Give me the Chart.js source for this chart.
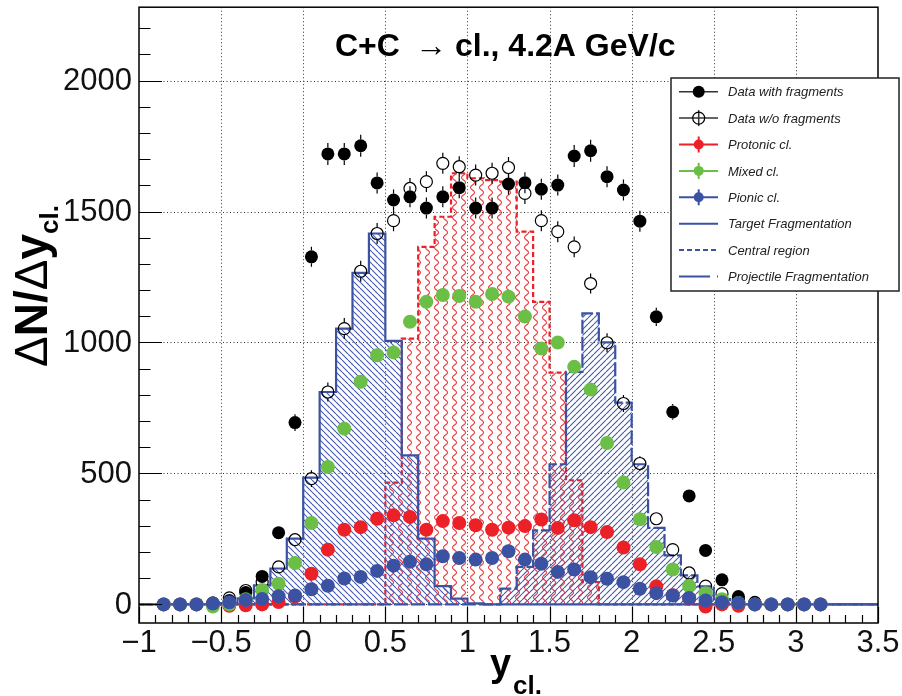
<!DOCTYPE html>
<html>
<head>
<meta charset="utf-8">
<script src="https://cdn.jsdelivr.net/npm/chart.js@4"></script>
<style>
  html, body { margin: 0; padding: 0; background: #fff; }
  canvas { display: block; }
</style>
</head>
<body>
<canvas id="chart" width="902" height="696"></canvas>
<script>
// Bin centres of the measured points (bin width 0.1)
const yCentres = [-0.85, -0.75, -0.65, -0.55, -0.45, -0.35, -0.25, -0.15, -0.05, 0.05,
  0.15, 0.25, 0.35, 0.45, 0.55, 0.65, 0.75, 0.85, 0.95, 1.05,
  1.15, 1.25, 1.35, 1.45, 1.55, 1.65, 1.75, 1.85, 1.95, 2.05,
  2.15, 2.25, 2.35, 2.45, 2.55, 2.65, 2.75, 2.85, 2.95, 3.05, 3.15];

const withFragments = [0, 0, 0, 5, 15, 45, 107, 274, 694, 1327,
  1720, 1720, 1751, 1609, 1544, 1556, 1513, 1556, 1591, 1513,
  1513, 1605, 1610, 1585, 1601, 1712, 1732, 1633, 1582, 1463,
  1098, 735, 414, 206, 94, 30, 8, 0, 0, 0, 0];
const errWith = [0, 0, 0, 5, 8, 12, 18, 22, 32, 38,
  42, 42, 42, 40, 40, 40, 40, 40, 40, 40,
  40, 40, 40, 40, 40, 42, 42, 40, 40, 40,
  35, 30, 25, 18, 12, 8, 5, 0, 0, 0, 0];

const withoutFragments = [0, 0, 0, 5, 25, 53, 85, 143, 247, 480,
  811, 1053, 1272, 1416, 1465, 1588, 1614, 1684, 1671, 1639,
  1646, 1668, 1569, 1465, 1423, 1365, 1225, 999, 767, 538,
  327, 209, 120, 70, 41, 20, 5, 0, 0, 0, 0];
const errWithout = [0, 0, 0, 5, 8, 12, 15, 20, 25, 32,
  36, 40, 40, 40, 40, 40, 40, 40, 40, 40,
  40, 40, 40, 40, 40, 40, 38, 36, 32, 28,
  22, 18, 14, 10, 8, 5, 3, 0, 0, 0, 0];

const protonic = [0, 0, 0, 0, -5, -3, 0, 9, 30, 117,
  209, 285, 295, 327, 340, 334, 285, 318, 311, 302,
  285, 293, 299, 324, 292, 321, 295, 276, 217, 153,
  69, 35, 22, -8, 0, -5, 0, 0, 0, 0, 0];
const mixed = [0, 0, 0, -8, 0, 20, 55, 79, 158, 311,
  525, 671, 850, 951, 962, 1079, 1155, 1181, 1177, 1155,
  1185, 1175, 1099, 977, 1000, 907, 820, 616, 465, 325,
  219, 133, 70, 43, 20, 5, 0, 0, 0, 0, 0];
const pionic = [0, 0, 0, 3, 8, 17, 21, 31, 34, 58,
  71, 99, 105, 128, 148, 163, 153, 184, 177, 171,
  177, 203, 171, 155, 124, 133, 104, 98, 85, 60,
  43, 34, 24, 15, 8, 5, 0, 0, 0, 0, 0];

// Histogram bin edges and contents
const binEdges = [-1, -0.9, -0.8, -0.7, -0.6, -0.5, -0.4, -0.3, -0.2, -0.1,
  0, 0.1, 0.2, 0.3, 0.4, 0.5, 0.6, 0.7, 0.8, 0.9,
  1, 1.1, 1.2, 1.3, 1.4, 1.5, 1.6, 1.7, 1.8, 1.9,
  2, 2.1, 2.2, 2.3, 2.4, 2.5, 2.6, 2.7, 2.8, 2.9,
  3, 3.1, 3.2, 3.3, 3.4, 3.5];
const targetFrag = [0, 0, 0, 0, 0, 5, 23, 73, 137, 251,
  484, 811, 1053, 1266, 1416, 1006, 569, 251, 70, 22,
  4, 0, 0, 0, 0, 0, 0, 0, 0, 0,
  0, 0, 0, 0, 0, 0, 0, 0, 0, 0, 0, 0, 0, 0, 0];
const centralReg = [0, 0, 0, 0, 0, 0, 0, 0, 0, 0,
  0, 0, 0, 0, 0, 465, 1015, 1365, 1480, 1646,
  1627, 1620, 1614, 1423, 1155, 885, 474, 85, 0, 0,
  0, 0, 0, 0, 0, 0, 0, 0, 0, 0, 0, 0, 0, 0, 0];
const projFrag = [0, 0, 0, 0, 0, 0, 0, 0, 0, 0,
  0, 0, 0, 0, 0, 0, 0, 0, 0, 0,
  0, 0, 60, 143, 283, 535, 888, 1111, 1000, 770,
  535, 292, 187, 111, 69, 20, 5, 0, 0, 0, 0, 0, 0, 0, 0];

// Axis ticks
const xTicks = [-1, -0.5, 0, 0.5, 1, 1.5, 2, 2.5, 3, 3.5];
const yTicks = [0, 500, 1000, 1500, 2000];

const red = "#ec2027";
const green = "#6bbf47";
const blue = "#3b52a3";
const font = "'Liberation Sans', Arial, sans-serif";

function points(values) {
  return values.map((v, i) => ({ x: yCentres[i], y: v }));
}

function steps(values) {
  const pts = values.map((v, j) => ({ x: binEdges[j], y: v }));
  pts.push({ x: binEdges[values.length], y: values[values.length - 1] });
  return pts;
}

function hatch(slash) {
  const s = 6;
  const c = document.createElement("canvas");
  c.width = c.height = s;
  const g = c.getContext("2d");
  g.strokeStyle = "#4659ad";
  g.lineWidth = 1.1;
  g.beginPath();
  for (let k = -1; k <= 1; k++) {
    if (slash) {
      g.moveTo(k * s, s);
      g.lineTo(k * s + s, 0);
    } else {
      g.moveTo(k * s, 0);
      g.lineTo(k * s + s, s);
    }
  }
  g.stroke();
  return g.createPattern(c, "repeat");
}

function wavy() {
  const w = 9, h = 10;
  const c = document.createElement("canvas");
  c.width = w;
  c.height = h;
  const g = c.getContext("2d");
  g.strokeStyle = "rgba(236,48,54,0.95)";
  g.lineWidth = 1.1;
  g.beginPath();
  for (let y = -1; y <= h + 1; y += 0.5) {
    const x = 4.5 + 2 * Math.sin((2 * Math.PI * y) / h);
    if (y === -1) g.moveTo(x, y);
    else g.lineTo(x, y);
  }
  g.stroke();
  return g.createPattern(c, "repeat");
}

// Error bars, drawn under the markers of their own dataset
const errorBars = {
  id: "errorBars",
  beforeDatasetDraw(chart, args) {
    const ds = chart.data.datasets[args.index];
    if (!ds.errors) return;
    const { ctx, scales: { y } } = chart;
    ctx.save();
    ctx.strokeStyle = "#000";
    ctx.lineWidth = 1.2;
    args.meta.data.forEach((pt, i) => {
      const e = ds.errors[i];
      if (!e) return;
      const v = ds.data[i].y;
      const top = y.getPixelForValue(v + e);
      const bot = y.getPixelForValue(v - e);
      const r = ds.pointRadius;
      ctx.beginPath();
      if (pt.y - r > top) { ctx.moveTo(pt.x, top); ctx.lineTo(pt.x, pt.y - r); }
      if (pt.y + r < bot) { ctx.moveTo(pt.x, pt.y + r); ctx.lineTo(pt.x, bot); }
      ctx.stroke();
    });
    ctx.restore();
  },
};

// ROOT-style frame: dotted grid, inner ticks, box
const rootFrame = {
  id: "rootFrame",
  beforeDatasetsDraw(chart) {
    const { ctx, chartArea: a, scales: { x, y } } = chart;
    ctx.save();
    ctx.strokeStyle = "#333";
    ctx.lineWidth = 1;
    ctx.setLineDash([1, 2.5]);
    ctx.beginPath();
    xTicks.forEach((v) => {
      const px = Math.round(x.getPixelForValue(v)) + 0.5;
      if (px <= a.left + 2 || px >= a.right - 2) return;
      ctx.moveTo(px, a.top);
      ctx.lineTo(px, a.bottom);
    });
    yTicks.forEach((v) => {
      const py = Math.round(y.getPixelForValue(v)) + 0.5;
      ctx.moveTo(a.left, py);
      ctx.lineTo(a.right, py);
    });
    ctx.stroke();
    ctx.restore();
  },
  afterDatasetsDraw(chart) {
    const { ctx, chartArea: a, scales: { x, y } } = chart;
    ctx.save();
    ctx.strokeStyle = "#000";
    ctx.lineWidth = 1.2;
    ctx.beginPath();
    for (let k = 0; k <= 45; k++) {
      const v = -1 + k * 0.1;
      const px = Math.round(x.getPixelForValue(v)) + 0.5;
      const len = k % 5 === 0 ? 16 : 8;
      ctx.moveTo(px, a.bottom);
      ctx.lineTo(px, a.bottom - len);
    }
    for (let v = 0; v <= 2200; v += 100) {
      const py = Math.round(y.getPixelForValue(v)) + 0.5;
      const len = v % 500 === 0 ? 23 : 11.5;
      ctx.moveTo(a.left, py);
      ctx.lineTo(a.left + len, py);
    }
    ctx.stroke();
    ctx.lineWidth = 1.5;
    ctx.strokeRect(a.left, a.top, a.right - a.left, a.bottom - a.top);
    ctx.restore();
  },
  afterDraw(chart) {
    const { ctx, scales: { x, y } } = chart;
    ctx.save();
    ctx.fillStyle = "#111";
    ctx.font = "31px " + font;
    ctx.textAlign = "right";
    ctx.textBaseline = "middle";
    yTicks.forEach((v) => ctx.fillText(String(v), 132, y.getPixelForValue(v) + 1));
    ctx.textAlign = "center";
    ctx.textBaseline = "alphabetic";
    xTicks.forEach((v) => {
      const t = v < 0 ? "\u2212" + Math.abs(v) : String(v);
      ctx.fillText(t, x.getPixelForValue(v), 652);
    });

    // title
    ctx.fillStyle = "#000";
    ctx.textAlign = "left";
    ctx.font = "bold 32px " + font;
    ctx.fillText("C+C", 335, 56);
    ctx.font = "32px " + font;
    ctx.fillText("\u2192", 415, 56);
    ctx.font = "bold 32px " + font;
    ctx.fillText("cl., 4.2A GeV/c", 455, 56);

    // x title
    ctx.font = "bold 38px " + font;
    ctx.fillText("y", 490, 676);
    ctx.font = "bold 26px " + font;
    ctx.fillText("cl.", 513, 694);

    // y title
    ctx.translate(47, 367);
    ctx.rotate(-Math.PI / 2);
    let cx = 0;
    const part = (t, f, dy) => {
      ctx.font = f;
      ctx.fillText(t, cx, dy);
      cx += ctx.measureText(t).width;
    };
    part("\u0394", "46px " + font, 0);
    part("N/", "bold 46px " + font, 0);
    part("\u0394", "46px " + font, 0);
    part("y", "bold 46px " + font, 0);
    part("cl.", "bold 26px " + font, 11);
    ctx.restore();
  },
};

const legendRows = [
  { label: "Data with fragments", kind: "filled", color: "#000", r: 6 },
  { label: "Data w/o fragments", kind: "open", color: "#000", r: 6 },
  { label: "Protonic cl.", kind: "filled", color: red, r: 5, bar: true },
  { label: "Mixed cl.", kind: "filled", color: green, r: 5, bar: true },
  { label: "Pionic cl.", kind: "filled", color: blue, r: 5, bar: true },
  { label: "Target Fragmentation", kind: "line", color: blue, dash: [] },
  { label: "Central region", kind: "line", color: blue, dash: [5, 3] },
  { label: "Projectile Fragmentation", kind: "line", color: blue, dash: [31, 7] },
];

const rootLegend = {
  id: "rootLegend",
  afterDraw(chart) {
    const { ctx } = chart;
    ctx.save();
    ctx.fillStyle = "#fff";
    ctx.fillRect(671, 78, 228, 213);
    ctx.strokeStyle = "#222";
    ctx.lineWidth = 1.5;
    ctx.strokeRect(671, 78, 228, 213);
    legendRows.forEach((row, k) => {
      const cy = 91.7 + k * 26.4;
      ctx.setLineDash(row.dash || []);
      ctx.strokeStyle = row.kind === "line" || row.bar ? row.color : "#333";
      ctx.lineWidth = row.kind === "line" || row.bar ? 2 : 1.5;
      ctx.beginPath();
      ctx.moveTo(679, cy);
      ctx.lineTo(718, cy);
      ctx.stroke();
      ctx.setLineDash([]);
      if (row.bar || row.kind === "open") {
        ctx.beginPath();
        ctx.moveTo(698.7, cy - 8);
        ctx.lineTo(698.7, cy + 8);
        ctx.stroke();
      }
      if (row.kind === "filled") {
        ctx.fillStyle = row.color;
        ctx.beginPath();
        ctx.arc(698.7, cy, row.r, 0, Math.PI * 2);
        ctx.fill();
      } else if (row.kind === "open") {
        ctx.strokeStyle = "#000";
        ctx.lineWidth = 1.2;
        ctx.beginPath();
        ctx.arc(698.7, cy, row.r, 0, Math.PI * 2);
        ctx.stroke();
      }
      ctx.fillStyle = "#222";
      ctx.font = "italic 13px " + font;
      ctx.textAlign = "left";
      ctx.textBaseline = "middle";
      ctx.fillText(row.label, 728, cy + 1);
    });
    ctx.restore();
  },
};

function markerSet(label, values, color, order, extra) {
  return Object.assign({
    label,
    data: points(values),
    showLine: false,
    pointRadius: 7,
    pointBackgroundColor: color,
    pointBorderWidth: 0,
    order,
  }, extra || {});
}

function histSet(label, values, color, dash, fillPattern, order) {
  return {
    label,
    data: steps(values),
    stepped: true,
    borderColor: color,
    borderWidth: 2.2,
    borderDash: dash,
    pointRadius: 0,
    fill: "origin",
    backgroundColor: fillPattern,
    order,
  };
}

new Chart(document.getElementById("chart"), {
  type: "line",
  data: {
    datasets: [
      markerSet("Pionic cl.", pionic, blue, 0),
      markerSet("Mixed cl.", mixed, green, 1),
      markerSet("Protonic cl.", protonic, red, 2),
      markerSet("Data w/o fragments", withoutFragments, "rgba(0,0,0,0)", 3, {
        pointRadius: 6,
        pointBorderColor: "#000",
        pointBorderWidth: 1.2,
        errors: errWithout,
      }),
      markerSet("Data with fragments", withFragments, "#000", 4, {
        pointRadius: 6.5,
        errors: errWith,
      }),
      histSet("Projectile Fragmentation", projFrag, blue, [14, 3], hatch(true), 5),
      histSet("Target Fragmentation", targetFrag, blue, [], hatch(false), 6),
      histSet("Central region", centralReg, red, [5, 3], wavy(), 7),
    ],
  },
  options: {
    responsive: false,
    animation: false,
    events: [],
    layout: { padding: { left: 139, top: 7, right: 24, bottom: 73 } },
    scales: {
      x: { type: "linear", min: -1, max: 3.5, display: false },
      y: { type: "linear", min: -71, max: 2280, display: false },
    },
    plugins: {
      legend: { display: false },
      tooltip: { enabled: false },
    },
  },
  plugins: [errorBars, rootFrame, rootLegend],
});
</script>
</body>
</html>
